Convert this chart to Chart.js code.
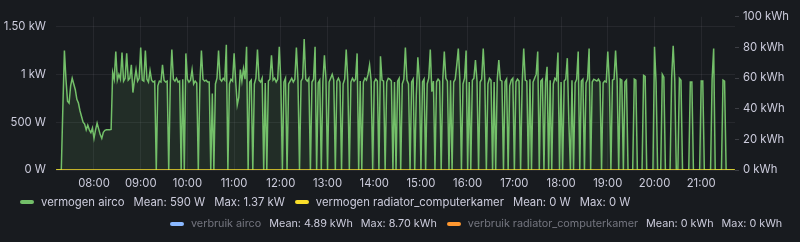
<!DOCTYPE html>
<html>
<head>
<meta charset="utf-8">
<script src="https://cdn.jsdelivr.net/npm/chart.js@4.4.1/dist/chart.umd.min.js"></script>
<style>
    html, body { margin: 0; padding: 0; background: #181b1f; }
    #wrap { position: relative; width: 800px; height: 242px; overflow: hidden; font-family: Inter, sans-serif; color: #ccccdc; }
    #wrap canvas { position: absolute; left: 0; top: 0; }
    .legend-row { position: absolute; display: flex; align-items: center; white-space: nowrap; height: 16px; line-height: 16px; }
    .swatch { display: inline-block; width: 14px; height: 4px; border-radius: 2px; margin-right: 7px; }
    .item { display: flex; align-items: center; margin-right: 10px; }
    .item:last-child { margin-right: 0; }
    .name, .stat { margin-right: 9px; }
    .stat:last-child { margin-right: 0; }
    #legendRow1 .name, #legendRow1 .stat { margin-right: 8px; }
    #legendRow1 .stat:last-child { margin-right: 0; }
    .off .name { color: rgba(204, 204, 220, 0.5); }
</style>
</head>
<body>
<div id="wrap">
    <canvas id="powerChart" width="800" height="242"></canvas>
    <div class="legend-row" id="legendRow0" style="left: 20px; top: 194px; font-size: 11.3px;"></div>
    <div class="legend-row" id="legendRow1" style="left: 170px; top: 216px; font-size: 10.8px;"></div>
</div>
<script>
// time axis in minutes since midnight
var aircoStart = 432;   // 07:12
var aircoStep = 2;      // minutes between samples

// vermogen airco (W)
var aircoPower = [
    0, 0, 0, 0, 650, 1250, 950, 720, 700, 880, 960, 900, 840, 740, 700, 620, 560, 500,
    480, 420, 470, 420, 390, 440, 330, 420, 490, 430, 370, 330, 395, 415, 420, 420, 420, 425,
    1020, 950, 1240, 940, 1000, 950, 1230, 930, 960, 1220, 940, 960, 1100, 810,
    940, 1050, 930, 960, 1280, 940, 930, 1250, 950, 920, 1040, 940, 920, 930,
    // 09:20
    0, 880, 930, 920, 1100, 940, 920, 930, 0, 900, 1260, 950, 930, 960, 920,
    930, 0, 950, 0, 1220, 950, 920, 940, 1050, 900, 930, 910, 0, 900, 1250,
    950, 930, 940, 920, 920, 0, 800, 0, 900, 960, 1250, 950, 930, 960, 940,
    // 10:50
    1310, 0, 900, 950, 930, 1220, 930, 680, 760, 1050, 930, 1060,
    950, 1290, 0, 920, 940, 0, 900, 960, 1260, 940, 920, 960,
    0, 910, 0, 930, 950, 1200, 940, 960, 920, 950, 1290, 930,
    0, 920, 960, 0, 900, 930, 960, 920, 950, 1280, 940, 0,
    930, 960, 1370, 950, 930, 960, 0, 920, 950, 1290, 0, 910,
    940, 0, 920, 1200, 950, 0, 920, 960, 1000, 940, 0, 930,
    960, 920, 0, 900, 950, 1260, 940, 0, 920, 960, 930, 950,
    1220, 0, 930, 0, 920, 960, 940, 1000, 1100, 930, 0, 920,
    950, 930, 0, 1190, 940, 930, 0, 920, 960, 950, 930, 0,
    // 14:26
    920, 0, 930, 960, 0, 900, 950, 1280, 940, 900, 0, 920,
    950, 0, 780, 1180, 940, 0, 920, 950, 0, 900, 960, 1260,
    820, 930, 0, 920, 950, 930, 0, 940, 1240, 960, 930, 0,
    940, 0, 920, 950, 1100, 1270, 940, 0, 900, 960, 1250, 0,
    920, 0, 940, 960, 1150, 930, 0, 920, 950, 1270, 940, 0,
    900, 960, 940, 0, 920, 0, 950, 1150, 940, 930, 0, 920,
    950, 0, 880, 940, 960, 0, 920, 950, 930, 0, 910, 1270,
    940, 930, 0, 950, 0, 920, 960, 1000, 1240, 0, 930, 950,
    0, 920, 1080, 0, 940, 0, 900, 960, 940, 1230, 0, 920,
    0, 930, 950,
    // 18:08
    1170, 500, 0, 940, 0, 910, 950, 1240, 0, 930, 950, 0,
    910, 950, 1270, 0, 920, 950, 940, 930, 950, 920, 0, 910,
    930, 920, 1240, 920, 0, 940, 950, 1250, 930, 0, 950, 940,
    0, 920, 940, 0, 0, 0, 0, 950, 940, 0, 0, 0,
    0, 990, 980, 0, 0, 0, 0, 0, 1290, 920, 0, 0,
    0, 1000, 970, 0, 0, 0, 0, 960, 1300, 950, 0, 0,
    960, 940, 0, 0, 0, 0, 0, 920, 920, 0, 0, 0,
    0, 0, 930, 930, 0, 0, 0, 0, 0, 950, 1270, 0,
    0, 0, 0, 0, 940, 930, 0, 0, 0, 0, 0, 0
];

// vermogen radiator_computerkamer (W), flat for the whole range
var radiatorTimes = [431, 1304];
var radiatorPower = [0, 0];

var hourTicks = [480, 540, 600, 660, 720, 780, 840, 900, 960, 1020, 1080, 1140, 1200, 1260];
var hourLabels = ['08:00', '09:00', '10:00', '11:00', '12:00', '13:00', '14:00', '15:00', '16:00', '17:00', '18:00', '19:00', '20:00', '21:00'];
var powerTicks = [0, 500, 1000, 1500];
var powerLabels = ['0 W', '500 W', '1 kW', '1.50 kW'];
var energyTicks = [0, 20, 40, 60, 80, 100];
var energyLabels = ['0 kWh', '20 kWh', '40 kWh', '60 kWh', '80 kWh', '100 kWh'];

var legendNames = ['vermogen airco', 'vermogen radiator_computerkamer', 'verbruik airco', 'verbruik radiator_computerkamer'];
var legendColors = ['#73bf69', '#fade2a', '#8ab8ff', '#ff9830'];
var legendMeans = ['590 W', '0 W', '4.89 kWh', '0 kWh'];
var legendMaxes = ['1.37 kW', '0 W', '8.70 kWh', '0 kWh'];
var legendHidden = [false, false, true, true];
var legendRow = [0, 0, 1, 1];

// Fill under a line down to 0 on its own y scale (drawn before the line itself)
var areaFill = {
    id: 'areaFill',
    beforeDatasetDraw: function (chart, args) {
        var ds = chart.data.datasets[args.index];
        if (!ds.areaColor) return;
        var pts = args.meta.data;
        if (!pts.length) return;
        var c = chart.ctx;
        var area = chart.chartArea;
        var zeroY = chart.scales[ds.yAxisID].getPixelForValue(0);
        c.save();
        c.beginPath();
        c.rect(area.left, area.top, area.right - area.left, area.bottom - area.top);
        c.clip();
        c.beginPath();
        c.moveTo(pts[0].x, zeroY);
        pts.forEach(p => c.lineTo(p.x, p.y));
        c.lineTo(pts[pts.length - 1].x, zeroY);
        c.closePath();
        c.fillStyle = ds.areaColor;
        c.fill();
        c.restore();
    }
};

document.addEventListener("DOMContentLoaded", function () {
    var textColor = '#ccccdc';
    var gridColor = 'rgba(204, 204, 220, 0.08)';
    var tickFont = { family: 'Inter', size: 11.3 };

    var aircoData = aircoPower.map((v, i) => ({ x: aircoStart + i * aircoStep, y: v }));
    var radiatorData = radiatorTimes.map((t, i) => ({ x: t, y: radiatorPower[i] }));

    var ctx = document.getElementById('powerChart').getContext('2d');

    new Chart(ctx, {
        type: 'line',
        data: {
            datasets: [{
                label: 'vermogen radiator_computerkamer',
                data: radiatorData,
                borderColor: legendColors[1],
                borderWidth: 1.5,
                pointRadius: 0,
                fill: false,
                order: 0,
                yAxisID: 'y'
            }, {
                label: 'vermogen airco',
                data: aircoData,
                borderColor: legendColors[0],
                areaColor: 'rgba(115, 191, 105, 0.11)',
                borderWidth: 1.5,
                pointRadius: 0,
                fill: false,
                tension: 0,
                order: 1,
                yAxisID: 'y'
            }]
        },
        options: {
            responsive: false,
            animation: false,
            layout: {
                padding: { top: 15, left: 0, right: 0, bottom: 0 }
            },
            plugins: {
                legend: { display: false },
                tooltip: { enabled: false }
            },
            scales: {
                x: {
                    type: 'linear',
                    min: 431.2,
                    max: 1303.4,
                    afterBuildTicks: function (scale) {
                        scale.ticks = hourTicks.map(v => ({ value: v }));
                    },
                    afterFit: function (scale) { scale.height = 72; },
                    ticks: {
                        color: textColor,
                        font: tickFont,
                        padding: 7,
                        maxRotation: 0,
                        autoSkip: false,
                        callback: function (value, index) { return hourLabels[index]; }
                    },
                    grid: { color: gridColor, drawTicks: false },
                    border: { display: false }
                },
                y: {
                    position: 'left',
                    min: 0,
                    max: 1603,
                    afterBuildTicks: function (scale) {
                        scale.ticks = powerTicks.map(v => ({ value: v }));
                    },
                    afterFit: function (scale) { scale.width = 56; },
                    ticks: {
                        color: textColor,
                        font: tickFont,
                        padding: 10,
                        callback: function (value, index) { return powerLabels[index]; }
                    },
                    grid: { color: gridColor, drawTicks: false },
                    border: { display: false }
                },
                y2: {
                    position: 'right',
                    min: 0,
                    max: 100,
                    afterBuildTicks: function (scale) {
                        scale.ticks = energyTicks.map(v => ({ value: v }));
                    },
                    afterFit: function (scale) { scale.width = 65; },
                    ticks: {
                        color: textColor,
                        font: tickFont,
                        padding: 4,
                        callback: function (value, index) { return energyLabels[index]; }
                    },
                    grid: { drawOnChartArea: false, drawTicks: true, tickLength: 4, tickColor: 'rgba(204, 204, 220, 0.2)' },
                    border: { display: false }
                }
            }
        },
        plugins: [areaFill]
    });

    // Custom legend, Grafana style
    legendNames.forEach((name, index) => {
        var item = document.createElement("div");
        item.className = "item" + (legendHidden[index] ? " off" : "");
        item.innerHTML = `<span class="swatch" style="background-color: ${legendColors[index]};"></span>` +
            `<span class="name">${name}</span>` +
            `<span class="stat">Mean: ${legendMeans[index]}</span>` +
            `<span class="stat">Max: ${legendMaxes[index]}</span>`;
        document.getElementById("legendRow" + legendRow[index]).appendChild(item);
    });
});
</script>
</body>
</html>
